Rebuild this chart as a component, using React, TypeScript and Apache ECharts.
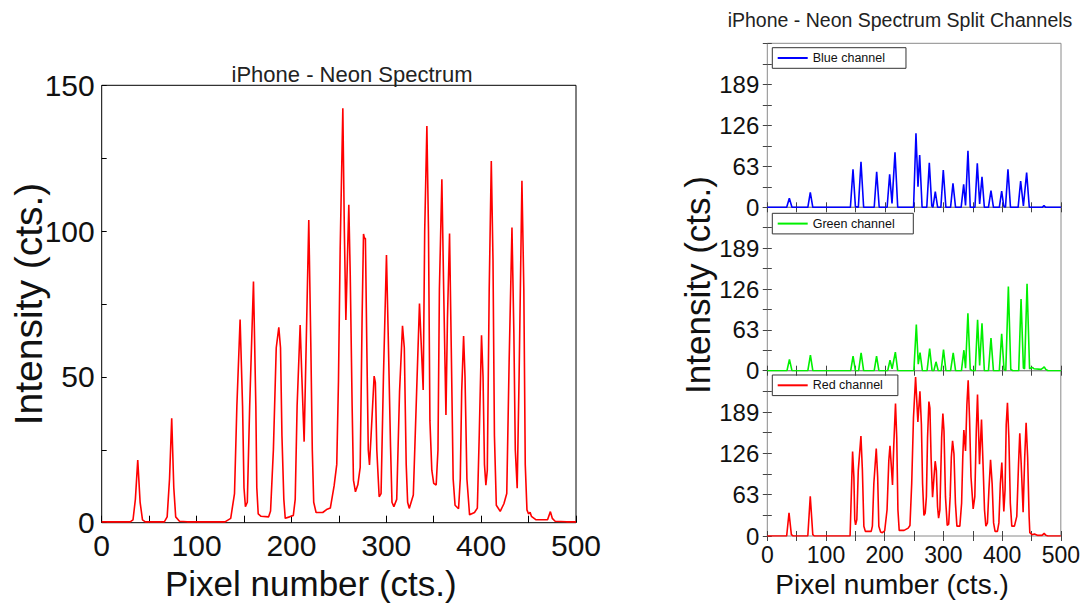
import React, { useEffect, useRef } from 'react';
import * as echarts from 'echarts';

const FONT = "'Liberation Sans', Arial, Helvetica, sans-serif";

const channelNames = ['Blue channel', 'Green channel', 'Red channel'];
const channelColors = ['#0000ff', '#00f000', '#ff0000'];

// [pixel, intensity]
const neonSpectrum: number[][] = [
  [0, 0.3], [30, 0.3], [33, 1], [35.5, 8], [38, 21.5], [40.5, 7], [43, 1], [46, 0.3],
  [66, 0.3], [69, 2], [71.5, 15], [73.8, 35.8], [76, 12], [78, 2], [82, 0.5], [90, 0.3],
  [130, 0.3], [136, 1.5], [140, 10], [142.5, 40], [145.9, 69.7], [148.5, 40], [150, 12], [151.5, 5.5],
  [153.5, 7], [156, 40], [160, 82.7], [162.5, 40], [163.5, 12], [165, 3], [168, 2.2], [176, 2],
  [178, 4], [181, 25], [184, 60], [186.7, 67], [188.5, 60], [190, 30], [192, 8], [193.5, 1.5],
  [198, 2], [202, 2.5], [204, 8], [206, 40], [209.2, 67.8], [211, 50], [213.4, 27.8], [215.5, 60],
  [218.3, 103.8], [220.5, 60], [222, 25], [223.5, 7], [226, 3.5], [233, 3.5], [237, 4.5], [241, 5],
  [245, 12.6], [247.8, 20], [249.6, 48.6], [251.4, 94], [254.2, 142.1], [255.8, 100], [257.4, 69.5],
  [260.5, 109], [262, 85], [264, 40], [265.4, 14.6], [267.5, 10.6], [270, 13], [272.5, 19], [274.5, 70],
  [276, 99], [277, 97.5], [278, 97.5], [279.5, 60], [281, 25], [282.3, 19.8], [284, 30], [287.2, 50.3],
  [288.5, 48], [290, 25], [292.5, 8.9], [294.5, 10], [297, 50], [300.2, 91.8], [302, 65], [304.5, 26],
  [306, 7], [308, 5.5], [311, 8], [314, 45], [317.1, 67.5], [319, 60], [321, 20], [322.5, 7],
  [324.2, 4.9], [328.5, 9.5], [332, 45], [335, 75.2], [337, 60], [338.9, 45.5], [340.5, 100],
  [342.8, 136], [344.5, 100], [346, 35], [348, 18], [350, 13.5], [352.6, 12.9], [354.5, 25], [356, 80],
  [358.6, 117.8], [360.5, 80], [362.9, 36.9], [364.5, 70], [366.7, 99.2], [368.5, 60], [370.5, 15],
  [372.5, 6], [376.2, 4.8], [378, 15], [379.5, 45], [381.5, 64], [383, 50], [385, 15], [387.8, 2.7],
  [393, 3.5], [396, 5], [398, 30], [400.4, 64.3], [402, 50], [403.5, 20], [405, 12.9], [406.5, 18],
  [408.5, 80], [410.7, 124], [412.5, 90], [414, 30], [416, 6], [420.1, 3.9], [424, 6.5], [427, 10],
  [429.5, 55], [432.5, 101.2], [434.5, 65], [436, 25], [438, 11.8], [440, 50], [443, 117.3], [445, 80],
  [446.5, 20], [448.3, 4.4], [450, 3], [451.6, 3.6], [453, 2.2], [458, 1], [470, 1], [473, 3.8],
  [475, 1.5], [478, 0.5], [490, 0.3], [500, 0.3],
];

const blueChannel: number[][] = [
  [0, 0], [33, 0], [37.5, 13.8], [42, 0], [69, 0], [73.2, 23], [77.5, 0], [141.5, 0], [145.9, 58.4],
  [150, 1], [155, 0], [159.5, 70], [164, 0], [182, 0], [186.2, 54.7], [190.5, 0], [204, 0],
  [208.3, 50.7], [212.3, 6], [217.4, 84.5], [222, 0], [249, 0], [253.1, 113.7], [256.5, 31.6],
  [259.4, 80.3], [263.5, 0], [271.5, 0], [275.8, 68.5], [280, 2], [282, 0], [286, 24], [290, 0],
  [295.5, 0], [299.6, 57.3], [304, 0], [312, 0], [316.1, 36.9], [320.5, 0], [330, 0], [334.3, 35.3],
  [337.5, 3], [341.6, 87], [345.5, 0], [353.5, 0], [357.5, 67.6], [361.5, 5], [365.5, 47], [369.5, 0],
  [376.5, 0], [380.8, 25.5], [385, 0], [395, 0], [399, 25], [402.5, 2], [405.5, 0], [409.7, 58.4],
  [414, 0], [427, 0], [431.3, 40.4], [436, 2], [441.5, 53.2], [446, 0], [468, 0], [471, 2.5],
  [474, 0], [500, 0],
];

const greenChannel: number[][] = [
  [0, 0], [33.5, 0], [37.7, 17.4], [42, 0], [69, 0], [73.4, 24], [77.5, 0], [142, 0], [146, 22.4],
  [150, 0], [155.5, 0], [159.7, 27.5], [164, 0], [182, 0], [186, 22.4], [190, 0], [205, 0],
  [208.9, 16.3], [212.5, 3], [218, 28.5], [222, 0], [249.5, 0], [253.7, 71.2], [257, 10], [260, 28],
  [264, 0], [272, 0], [276.4, 34.2], [280.5, 0], [283.5, 0], [287.2, 13.7], [291, 0], [296, 0],
  [300, 32.6], [304, 0], [312, 0], [316.5, 27.5], [320.5, 0], [330.5, 0], [334.7, 31.6], [337.5, 4],
  [341.5, 88.5], [345.5, 2], [349, 0], [354, 0], [358, 78.4], [361.5, 8], [365.5, 73.2], [369.5, 0],
  [376.5, 0], [380.8, 50.3], [385, 0], [395, 0], [399, 57], [403, 2], [406, 0], [410.4, 129.7],
  [414.5, 2], [418, 0], [428, 0], [432, 110.4], [436, 4], [438, 3], [442.2, 134.2], [446.5, 3],
  [449, 4], [451.7, 5], [454, 3], [466, 2], [469, 4], [471.5, 6], [474, 2], [478, 0], [500, 0],
];

const redChannel: number[][] = [
  [0, 0], [33, 0], [37, 35.4], [41, 2], [44, 0], [69, 0], [73.2, 60.6], [77.5, 2], [80, 0], [141, 0],
  [143, 60], [145.3, 128.8], [147.5, 90], [149, 25], [150.4, 17], [152.5, 25], [155, 100],
  [159.5, 152.5], [162, 100], [164.5, 15], [167, 7], [177, 7], [179, 15], [181.5, 80], [185.6, 133.3],
  [188, 90], [190, 15], [193, 6], [196, 5], [200, 8], [204, 40], [207, 115], [209, 137.4], [211, 110],
  [213.3, 77.8], [215.5, 140], [218.4, 202], [220.5, 150], [222.5, 40], [224.7, 8.6], [233, 8.6],
  [240, 12], [243, 16], [246, 80], [249, 180], [252.6, 242.4], [256.5, 173.8], [260, 220.7],
  [262.5, 170], [264.5, 80], [266.8, 31.3], [269, 35], [271, 60], [273, 150], [275.3, 205], [277, 195],
  [279, 120], [281.5, 59], [284, 90], [286, 114], [288, 100], [290, 45], [291.8, 27.3], [294, 40],
  [297, 150], [299.1, 186.8], [301, 160], [303.5, 60], [306.5, 16.2], [309, 18], [311.5, 60],
  [313.5, 120], [315.6, 145], [318, 125], [320.5, 50], [323, 15], [328, 15], [331, 50], [333, 120],
  [334.8, 161.6], [337.7, 129.8], [340, 200], [342.2, 237.4], [344.5, 180], [347, 90], [350.7, 41.4],
  [353.5, 60], [356, 160], [358.1, 215.6], [361.5, 109.6], [364.9, 177.7], [367.5, 110], [370, 40],
  [372.3, 15], [375, 20], [377.5, 70], [380.3, 116.2], [383, 80], [385.5, 20], [388, 7], [392, 7],
  [394.5, 20], [397, 80], [399.5, 112], [402.9, 37.4], [405, 70], [407, 170], [409.1, 203],
  [411.5, 150], [414, 50], [416.5, 15], [421, 15], [425, 30], [428, 110], [430.1, 156.5], [432.5, 110],
  [435.8, 36.4], [438.5, 120], [440.9, 172.7], [443.5, 120], [446, 30], [447.2, 5], [451, 2], [455, 3],
  [460, 1], [468, 1], [471.6, 4], [474.5, 1], [478, 0], [500, 0],
];

const channelData = [blueChannel, greenChannel, redChannel];

export default function App() {
  const ref = useRef<HTMLDivElement>(null);

  useEffect(() => {
    if (!ref.current) return;
    const chart = echarts.init(ref.current, undefined, { renderer: 'svg' });

    const rightGrids = [
      { left: 767.3, top: 43.3, width: 293.7, height: 164 },
      { left: 767.3, top: 207.3, width: 293.7, height: 163.4 },
      { left: 767.3, top: 370.7, width: 293.7, height: 165.3 },
    ];

    const grid: any[] = [
      { left: 101.7, top: 85.3, width: 474.3, height: 437.4, show: true, borderColor: '#000', borderWidth: 1 },
      ...rightGrids.map((g) => ({ ...g, show: true, borderColor: '#8a8a8a', borderWidth: 1 })),
    ];

    const xAxis: any[] = [
      {
        type: 'value', gridIndex: 0, min: 0, max: 500, interval: 100,
        axisLine: { show: false }, splitLine: { show: false },
        axisTick: { inside: true, length: 7, lineStyle: { color: '#000' } },
        minorTick: { show: true, splitNumber: 2, length: 7, lineStyle: { color: '#000' } },
        axisLabel: { fontSize: 30, color: '#111', margin: 8, fontFamily: FONT, showMaxLabel: true },
        name: 'Pixel number (cts.)', nameLocation: 'middle', nameGap: 37,
        nameTextStyle: { fontSize: 35, color: '#111', fontFamily: FONT, padding: [0, 56, 0, 0] },
      },
    ];
    rightGrids.forEach((_, i) => {
      const last = i === 2;
      xAxis.push({
        type: 'value', gridIndex: i + 1, min: 0, max: 500, interval: 100, position: 'bottom',
        axisLine: { show: false }, splitLine: { show: false },
        axisTick: { inside: true, length: 5, lineStyle: { color: '#444' } },
        minorTick: { show: true, splitNumber: 2, length: 5, lineStyle: { color: '#444' } },
        axisLabel: {
          show: last, fontSize: 23, color: '#111', margin: 7, fontFamily: FONT,
          showMaxLabel: true, showMinLabel: true,
        },
        name: last ? 'Pixel number (cts.)' : '', nameLocation: 'middle', nameGap: 34,
        nameTextStyle: { fontSize: 28, color: '#111', fontFamily: FONT, padding: [0, 44, 0, 0] },
      });
    });
    rightGrids.forEach((_, i) => {
      xAxis.push({
        type: 'value', gridIndex: i + 1, min: 0, max: 500, interval: 100, position: 'top',
        axisLine: { show: false }, splitLine: { show: false },
        axisTick: { inside: true, length: 5, lineStyle: { color: '#444' } },
        minorTick: { show: true, splitNumber: 2, length: 5, lineStyle: { color: '#444' } },
        axisLabel: { show: false },
      });
    });

    const yAxis: any[] = [
      {
        type: 'value', gridIndex: 0, min: 0, max: 150, interval: 50,
        axisLine: { show: false }, splitLine: { show: false },
        axisTick: { inside: true, length: 5, lineStyle: { color: '#000' } },
        minorTick: { show: true, splitNumber: 2, length: 5, lineStyle: { color: '#000' } },
        axisLabel: { fontSize: 30, color: '#111', margin: 7, fontFamily: FONT },
        name: 'Intensity (cts.)', nameLocation: 'middle', nameGap: 54, nameRotate: 90,
        nameMoveOverlap: false,
        nameTextStyle: { fontSize: 39, color: '#111', fontFamily: FONT },
      },
    ];
    rightGrids.forEach((_, i) => {
      yAxis.push({
        type: 'value', gridIndex: i + 1, min: 0, max: 252, interval: 63, position: 'left',
        axisLine: { show: false }, splitLine: { show: false },
        axisTick: { inside: true, length: 4.5, lineStyle: { color: '#444' } },
        minorTick: { show: true, splitNumber: 2, length: 4.5, lineStyle: { color: '#444' } },
        axisLabel: {
          fontSize: 24, color: '#111', margin: 8, fontFamily: FONT,
          formatter: (v: number) => (v === 252 ? '' : String(v)),
        },
        name: i === 1 ? 'Intensity (cts.)' : '', nameLocation: 'middle', nameGap: 52, nameRotate: 90,
        nameTextStyle: { fontSize: 35, color: '#111', fontFamily: FONT, padding: [0, 0, 0, 8] },
      });
    });
    rightGrids.forEach((_, i) => {
      yAxis.push({
        type: 'value', gridIndex: i + 1, min: 0, max: 252, interval: 63, position: 'right',
        axisLine: { show: false }, splitLine: { show: false },
        axisTick: { inside: true, length: 4.5, lineStyle: { color: '#444' } },
        minorTick: { show: true, splitNumber: 2, length: 4.5, lineStyle: { color: '#444' } },
        axisLabel: { show: false },
      });
    });

    const series: any[] = [
      {
        type: 'line', name: 'Neon', xAxisIndex: 0, yAxisIndex: 0, data: neonSpectrum,
        symbol: 'none', showSymbol: false,
        lineStyle: { color: '#ff0000', width: 1.6 }, itemStyle: { color: '#ff0000' },
      },
      ...channelNames.map((name, i) => ({
        type: 'line', name, xAxisIndex: i + 1, yAxisIndex: i + 1, data: channelData[i],
        symbol: 'none', showSymbol: false,
        lineStyle: { color: channelColors[i], width: 1.6 }, itemStyle: { color: channelColors[i] },
      })),
    ];

    const legendTops = [47.7, 213.3, 375];
    const legendRightPad = [21, 18.6, 15];
    const legend = channelNames.map((name, i) => ({
      data: [name], left: 772.3, top: legendTops[i], orient: 'horizontal',
      icon: 'rect', itemWidth: 30, itemHeight: 2,
      padding: [3.3, legendRightPad[i], 3.3, 5.4],
      borderColor: '#333', borderWidth: 1, selectedMode: false,
      textStyle: { fontSize: 12.5, color: '#111', fontFamily: FONT, lineHeight: 14 },
    }));

    chart.setOption({
      animation: false,
      backgroundColor: '#ffffff',
      textStyle: { fontFamily: FONT },
      grid, xAxis, yAxis, series, legend,
      graphic: [
        {
          type: 'text', x: 352, y: 74,
          style: { text: 'iPhone - Neon Spectrum', align: 'center', verticalAlign: 'middle', fontSize: 22, fontFamily: FONT, fill: '#222' },
        },
        {
          type: 'text', x: 900, y: 20,
          style: { text: 'iPhone - Neon Spectrum Split Channels', align: 'center', verticalAlign: 'middle', fontSize: 19.5, fontFamily: FONT, fill: '#222' },
        },
      ],
    });

    return () => chart.dispose();
  }, []);

  return (
    <div
      ref={ref}
      style={{ position: 'absolute', left: 0, top: 0, width: 1083, height: 606, background: '#fff' }}
    />
  );
}
